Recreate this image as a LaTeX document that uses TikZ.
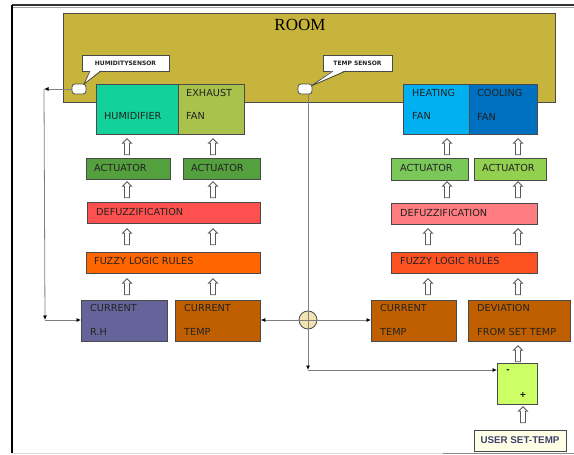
\documentclass[tikz,border=0pt]{standalone}
\usepackage{fontspec}
\setmainfont{DejaVu Sans}
\newfontfamily\roomfont{Liberation Serif}
\newfontfamily\userfont{Liberation Sans}
\usetikzlibrary{shapes.arrows,arrows.meta}
\definecolor{roomc}{HTML}{C6B43C}
\definecolor{humc}{HTML}{12D19B}
\definecolor{exhc}{HTML}{A9C24B}
\definecolor{heatc}{HTML}{00B0F0}
\definecolor{coolc}{HTML}{0070C0}
\definecolor{actLa}{HTML}{55A03E}
\definecolor{actRa}{HTML}{7AC85A}
\definecolor{actRb}{HTML}{92D050}
\definecolor{defL}{HTML}{FF5050}
\definecolor{defR}{HTML}{FF7C80}
\definecolor{fuzL}{HTML}{FF6600}
\definecolor{fuzR}{HTML}{FF5222}
\definecolor{rhc}{HTML}{65649A}
\definecolor{tmpc}{HTML}{C05F00}
\definecolor{minc}{HTML}{CCFF66}
\definecolor{userc}{HTML}{FFFFE6}
\definecolor{junc}{HTML}{F2E3B3}
\definecolor{txtc}{HTML}{222222}
\definecolor{linec}{HTML}{808080}
\definecolor{bordc}{HTML}{4A4A4A}
\tikzset{
  box/.style={draw=bordc, line width=0.8pt, rectangle, anchor=north west, inner sep=0pt},
  lbl/.style={anchor=west, inner sep=0pt, text=txtc, font=\fontsize{9.7}{10}\selectfont},
  calltxt/.style={inner sep=0pt, text=txtc, font=\bfseries\fontsize{6}{6}\selectfont},
  harrow/.style={shape=single arrow, shape border rotate=90, draw=black!65, fill=white,
    line width=0.8pt, minimum height=16pt, inner sep=2.1pt, single arrow head extend=1.9pt},
  conn/.style={draw=linec, line width=0.8pt},
  tip/.style={-{Latex[length=4.5pt,width=4pt,color=black]}},
  sensor/.style={draw=bordc, fill=white, rounded corners=3pt, line width=0.8pt, minimum width=14pt, minimum height=10pt, inner sep=0pt},
}
\begin{document}
\begin{tikzpicture}[x=1pt,y=-1pt]
\useasboundingbox (0,0) rectangle (574,455);
% frame
\coordinate (ftl) at (12,5);
\coordinate (ftr) at (574,5);
\coordinate (fbl) at (12,453);
\coordinate (fbm) at (443,453);
\coordinate (fbr) at (574,453);
\draw[black!80, line width=1.2pt] (ftl) -- (ftr);
\draw[black!35, line width=0.6pt] ([yshift=-2pt]ftl) -- ([yshift=-2pt]ftr);
\draw[black!15, line width=0.8pt] (fbl) -- (fbm);
\draw[black!45, line width=0.8pt] (fbm) -- (fbr);
\draw[black, line width=2.6pt] (ftl) -- (fbl);

% room
\node[box, fill=roomc, minimum width=492pt, minimum height=89pt] (room) at (63,13) {};
\node[inner sep=0pt, font=\roomfont\fontsize{17}{18}\selectfont, text=black] (roomT) at (300,25) {ROOM};

% devices
\node[box, fill=humc, minimum width=82pt, minimum height=50pt] (hum) at (96,84) {};
\node[box, fill=exhc, minimum width=66pt, minimum height=50pt] (exh) at (178,84) {};
\node[box, fill=heatc, minimum width=66pt, minimum height=50pt] (heat) at (403,84) {};
\node[box, fill=coolc, minimum width=68pt, minimum height=50pt] (cool) at (469,84) {};
\node[lbl] (humT) at (104,116) {HUMIDIFIER};
\node[lbl] (exhT1) at (186,93) {EXHAUST};
\node[lbl] (exhT2) at (186,116) {FAN};
\node[lbl] (heatT1) at (412,93) {HEATING};
\node[lbl] (heatT2) at (412,116) {FAN};
\node[lbl] (coolT1) at (477,93) {COOLING};
\node[lbl] (coolT2) at (477,117) {FAN};

% sensors and callouts
\node[draw=bordc, fill=white, line width=0.8pt, minimum width=87pt, minimum height=16pt, inner sep=0pt] (hcall) at (125.5,63) {};
\node[draw=bordc, fill=white, line width=0.8pt, minimum width=69pt, minimum height=16pt, inner sep=0pt] (tcall) at (357.5,63) {};
\fill[white] (90,70) -- (84,84) -- (101,70) -- cycle;
\draw[bordc, line width=0.8pt] (90,71) -- (84,84) -- (101,71);
\fill[white] (333,70) -- (311,86) -- (346,70) -- cycle;
\draw[bordc, line width=0.8pt] (333,71) -- (311,86) -- (346,71);
\node[sensor] (hsens) at (79,89) {};
\node[sensor] (tsens) at (305,89) {};
\node[calltxt] (hcallT) at (hcall) {HUMIDITYSENSOR};
\node[calltxt] (tcallT) at (tcall) {TEMP SENSOR};

% actuators
\node[box, fill=actLa, minimum width=84pt, minimum height=21pt] (act1) at (86,158) {};
\node[box, fill=actLa, minimum width=77pt, minimum height=21pt] (act2) at (183,158) {};
\node[box, fill=actRa, minimum width=77pt, minimum height=22pt] (act3) at (391,158) {};
\node[box, fill=actRb, minimum width=72pt, minimum height=22pt] (act4) at (474,158) {};
\node[lbl] (act1T) at (94,167.5) {ACTUATOR};
\node[lbl] (act2T) at (191,167.5) {ACTUATOR};
\node[lbl] (act3T) at (400,168) {ACTUATOR};
\node[lbl] (act4T) at (482,168) {ACTUATOR};

% defuzzification
\node[box, fill=defL, minimum width=173pt, minimum height=21pt] (def1) at (87,202) {};
\node[box, fill=defR, minimum width=146pt, minimum height=21pt] (def2) at (391,203) {};
\node[lbl] (def1T) at (96,212) {DEFUZZIFICATION};
\node[lbl] (def2T) at (400,213) {DEFUZZIFICATION};

% fuzzy rules
\node[box, fill=fuzL, minimum width=174pt, minimum height=21pt] (fuz1) at (86,252) {};
\node[box, fill=fuzR, minimum width=146pt, minimum height=21pt] (fuz2) at (391,252) {};
\node[lbl] (fuz1T) at (94,261) {FUZZY LOGIC RULES};
\node[lbl] (fuz2T) at (400,261) {FUZZY LOGIC RULES};

% inputs
\node[box, fill=rhc, minimum width=86pt, minimum height=41pt] (rh) at (81,300) {};
\node[box, fill=tmpc, minimum width=85pt, minimum height=41pt] (ct1) at (175,300) {};
\node[box, fill=tmpc, minimum width=85pt, minimum height=41pt] (ct2) at (371,300) {};
\node[box, fill=tmpc, minimum width=102pt, minimum height=41pt] (dev) at (468,300) {};
\node[lbl] (rhT1) at (90,308) {CURRENT};
\node[lbl] (rhT2) at (90,332) {R.H};
\node[lbl] (ct1T1) at (184,308) {CURRENT};
\node[lbl] (ct1T2) at (184,332) {TEMP};
\node[lbl] (ct2T1) at (380,308) {CURRENT};
\node[lbl] (ct2T2) at (380,332) {TEMP};
\node[lbl] (devT1) at (477,308) {DEVIATION};
\node[lbl] (devT2) at (477,332) {FROM SET TEMP};

% comparator and user set temp
\node[box, fill=minc, minimum width=40pt, minimum height=41pt] (minus) at (497,363) {};
\node[inner sep=0pt, font=\bfseries\fontsize{8}{8}\selectfont] (minusS) at (508,371) {-};
\node[inner sep=0pt, font=\bfseries\fontsize{8}{8}\selectfont] (plusS) at (523,395) {+};
\node[draw=bordc, fill=userc, line width=0.9pt, minimum width=92pt, minimum height=21pt, inner sep=0pt] (user) at (520,440.5) {};
\node[inner sep=0pt, font=\userfont\bfseries\fontsize{9.8}{10}\selectfont, text={rgb,255:red,64;green,64;blue,110}] (userT) at (user) {USER SET-TEMP};

% hollow arrows
\foreach \n/\x/\y in {a1/127/148, a2/213/148, a3/447/148, a4/518/148,
  b1/127/191, b2/213/191, b3/447/191, b4/518/191,
  c1/127/238, c2/213/238, c3/428/238, c4/518/238,
  d1/127/288, d2/213/288, d3/428/288, d4/518/288,
  e1/518/355, e2/523/416}
  \node[harrow] (\n) at (\x,\y) {};

% junction
\node[circle, draw=bordc, fill=junc, line width=0.8pt, minimum size=18pt, inner sep=0pt] (jct) at (308,320) {};
\draw[linec, line width=0.8pt] (jct.north) -- (jct.south) (jct.west) -- (jct.east);

% temperature connectors
\coordinate (tc) at (308,370);
\draw[conn] (tsens.south -| jct) -- (jct.north);
\draw[conn, tip] (jct.south) -- (tc);
\draw[conn, tip] (tc) -- (tc -| minus.west);
\draw[conn, tip] (jct.west) -- (ct1.east |- jct);
\draw[conn, tip] (jct.east) -- (ct2.west |- jct);

% humidity connectors
\coordinate (h1) at (44,89);
\coordinate (h2) at (45,320);
\draw[conn, tip] (hsens.west) -- (h1);
\draw[conn, tip] (h1) -- (h2);
\draw[conn, tip] (h2) -- (rh.west |- h2);
\end{tikzpicture}
\end{document}
